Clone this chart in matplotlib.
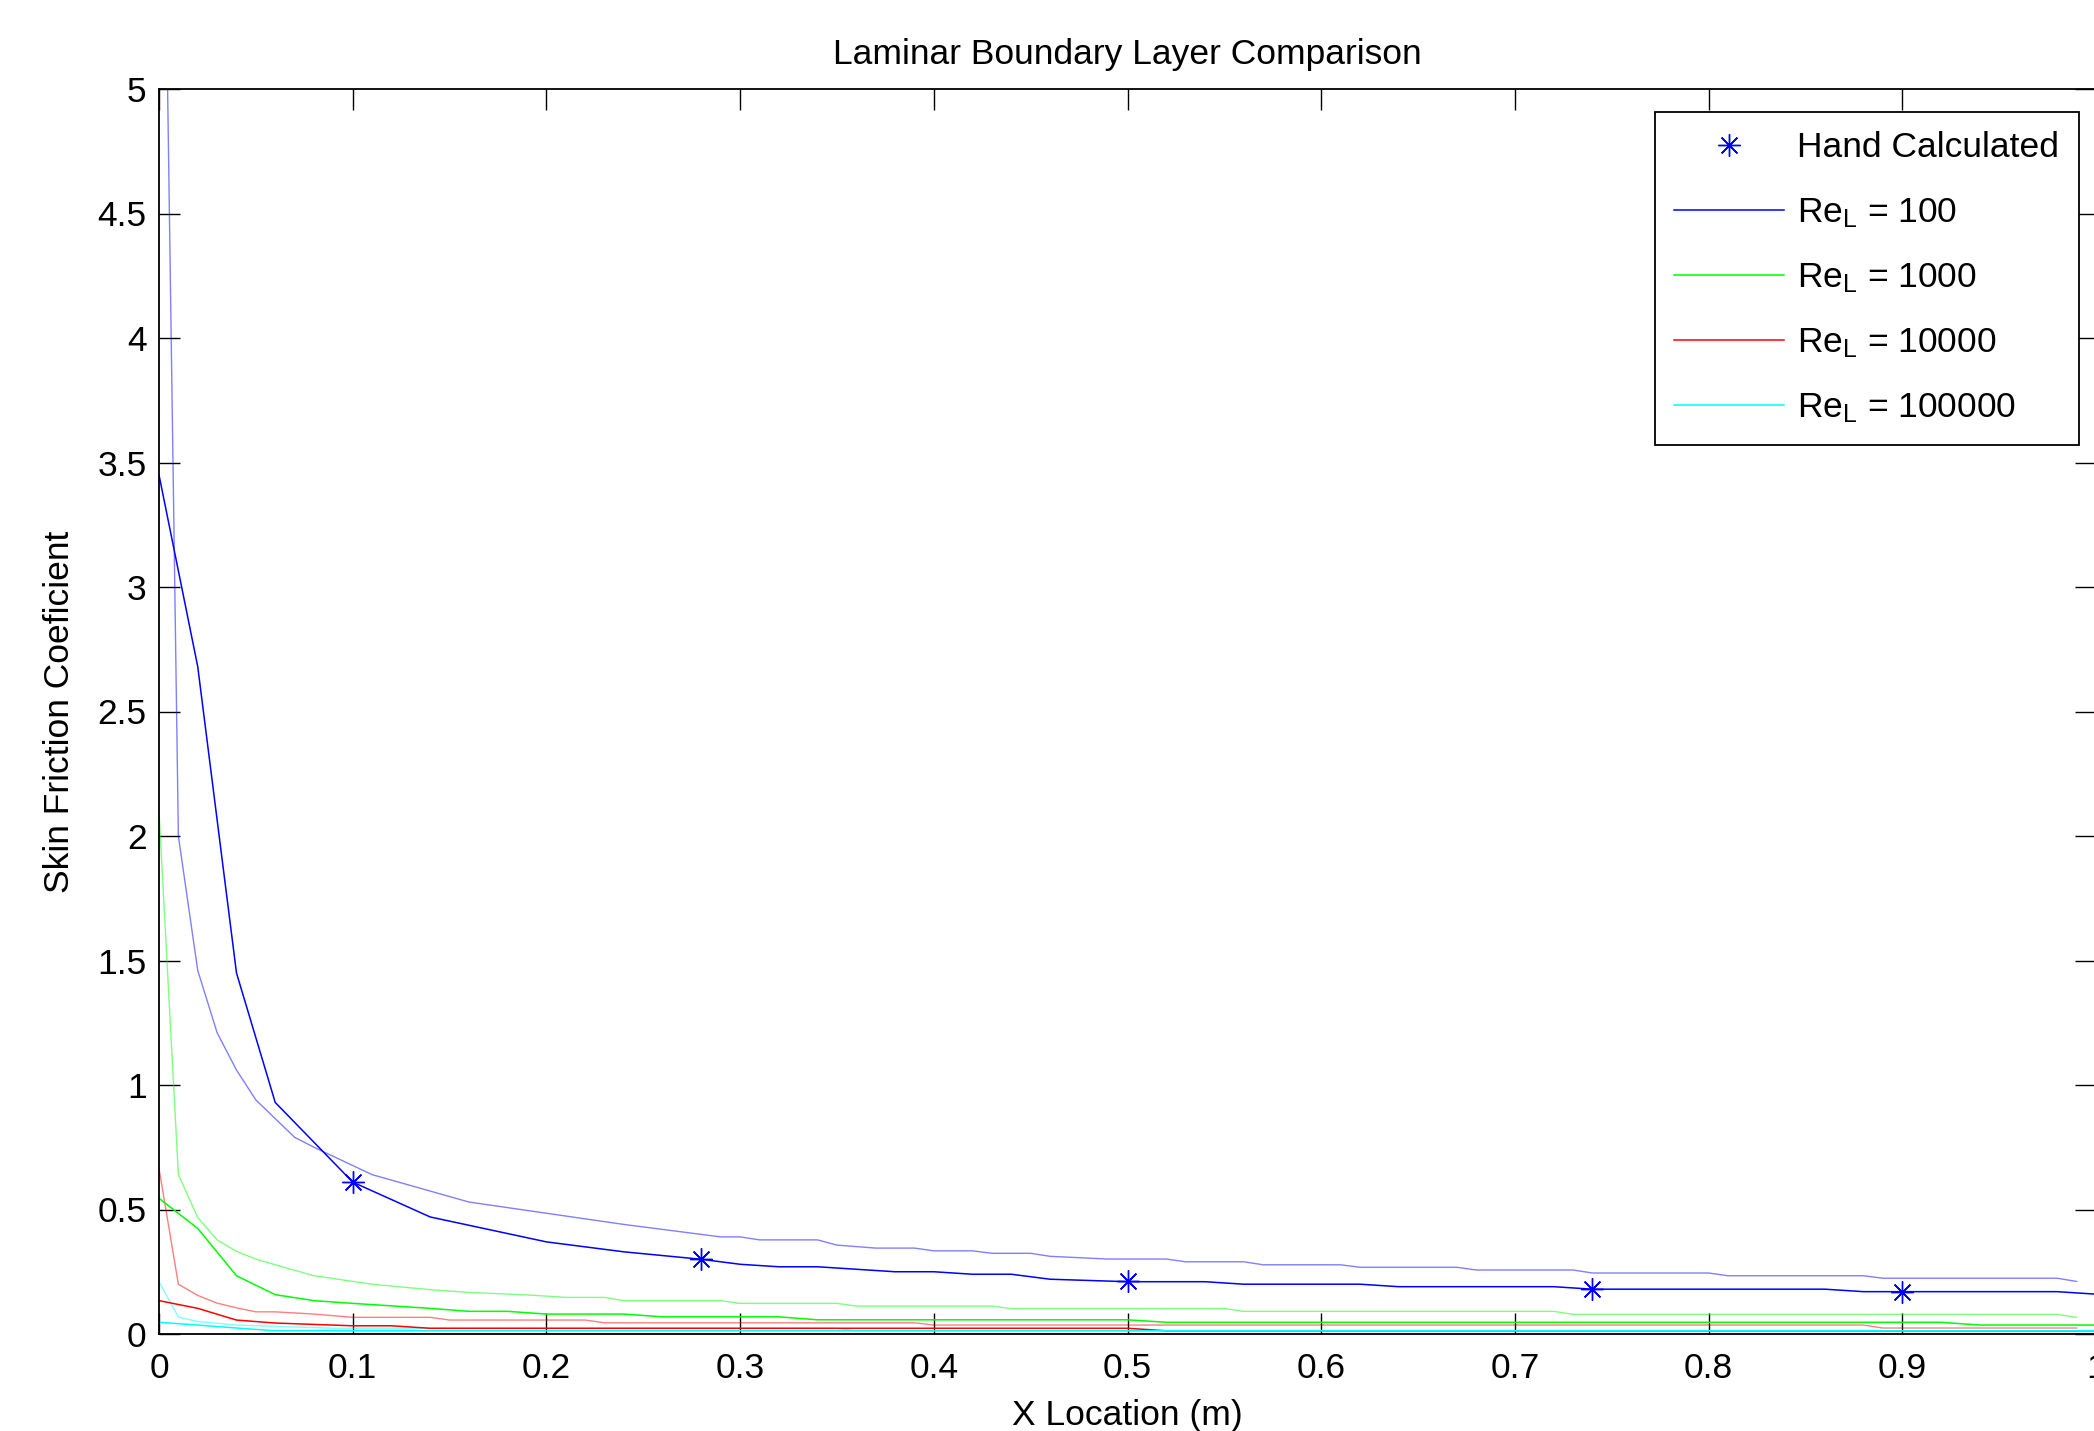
import matplotlib
matplotlib.use('Agg')
import matplotlib.pyplot as plt
from matplotlib.ticker import FixedLocator

# Skin friction coefficient along a flat plate

# Hand calculated points (Re_L = 100)
x_hand = [0.1, 0.28, 0.5, 0.74, 0.9]
cf_hand = [0.61, 0.30, 0.214, 0.18, 0.167]

# Re_L = 100
x_100 = [0, 0.02, 0.04, 0.06, 0.1, 0.14, 0.2, 0.24, 0.28, 0.30, 0.32, 0.34, 0.38, 0.40,
         0.42, 0.44, 0.46, 0.50, 0.54, 0.56, 0.62, 0.64, 0.72, 0.74, 0.86, 0.88, 0.98, 1.0]
cf_100 = [3.45, 2.68, 1.45, 0.93, 0.61, 0.47, 0.37, 0.33, 0.30, 0.28, 0.27, 0.27, 0.25, 0.25,
          0.24, 0.24, 0.22, 0.21, 0.21, 0.20, 0.20, 0.19, 0.19, 0.18, 0.18, 0.17, 0.17, 0.16]
x_100_b = [0, 0.01, 0.02, 0.03, 0.04, 0.05, 0.07, 0.08, 0.11, 0.16,
           0.24, 0.27, 0.29, 0.30, 0.31, 0.34, 0.35, 0.37, 0.39, 0.40,
           0.42, 0.43, 0.45, 0.46, 0.49, 0.52, 0.53, 0.56, 0.57, 0.61,
           0.62, 0.67, 0.68, 0.73, 0.74, 0.80, 0.81, 0.88, 0.89, 0.98, 0.99]
cf_100_b = [7.4, 2.0, 1.46, 1.21, 1.06, 0.94, 0.79, 0.75, 0.64, 0.53,
            0.44, 0.41, 0.39, 0.39, 0.378, 0.378, 0.357, 0.345, 0.345, 0.334,
            0.334, 0.324, 0.324, 0.312, 0.301, 0.301, 0.29, 0.29, 0.278, 0.278,
            0.268, 0.268, 0.257, 0.257, 0.245, 0.245, 0.234, 0.234, 0.224, 0.224, 0.211]

# Re_L = 1000
x_1000 = [0, 0.02, 0.04, 0.06, 0.08, 0.1, 0.14, 0.16, 0.18, 0.2, 0.24, 0.26, 0.32, 0.34,
          0.50, 0.52, 0.92, 0.94, 1.0]
cf_1000 = [0.545, 0.424, 0.234, 0.158, 0.134, 0.123, 0.103, 0.091, 0.091, 0.08, 0.08, 0.069,
           0.069, 0.057, 0.057, 0.047, 0.047, 0.036, 0.036]
x_1000_b = [0, 0.01, 0.02, 0.03, 0.04, 0.05, 0.06, 0.08, 0.11, 0.14, 0.16, 0.19, 0.21, 0.23,
            0.24, 0.29, 0.30, 0.35, 0.36, 0.43, 0.44, 0.55, 0.56, 0.72, 0.73, 0.98, 0.99]
cf_1000_b = [2.10, 0.64, 0.468, 0.378, 0.332, 0.301, 0.278, 0.234, 0.20, 0.178, 0.167, 0.157,
             0.147, 0.147, 0.134, 0.134, 0.123, 0.123, 0.112, 0.112, 0.102, 0.102, 0.091,
             0.091, 0.079, 0.079, 0.067]

# Re_L = 10000
x_10000 = [0, 0.02, 0.04, 0.06, 0.1, 0.12, 0.14, 0.50, 0.52, 1.0]
cf_10000 = [0.134, 0.103, 0.056, 0.044, 0.033, 0.033, 0.023, 0.023, 0.013, 0.013]
x_10000_b = [0, 0.01, 0.02, 0.03, 0.04, 0.05, 0.06, 0.08, 0.10, 0.14, 0.15, 0.22, 0.23,
             0.39, 0.40, 0.88, 0.89, 0.99]
cf_10000_b = [0.665, 0.20, 0.155, 0.124, 0.105, 0.089, 0.089, 0.08, 0.067, 0.067, 0.056,
              0.056, 0.045, 0.045, 0.036, 0.036, 0.024, 0.024]

# Re_L = 100000
x_100000 = [0, 0.02, 0.04, 0.06, 1.0]
cf_100000 = [0.047, 0.036, 0.024, 0.013, 0.013]
x_100000_b = [0, 0.01, 0.02, 0.04, 0.09, 0.35, 0.36, 0.99]
cf_100000_b = [0.21, 0.068, 0.05, 0.036, 0.023, 0.023, 0.012, 0.012]

legend_labels = ['Hand Calculated', r'Re$_\mathrm{L}$ = 100', r'Re$_\mathrm{L}$ = 1000',
                 r'Re$_\mathrm{L}$ = 10000', r'Re$_\mathrm{L}$ = 100000']

x_ticks = [0, 0.1, 0.2, 0.3, 0.4, 0.5, 0.6, 0.7, 0.8, 0.9, 1]
x_tick_labels = ['0', '0.1', '0.2', '0.3', '0.4', '0.5', '0.6', '0.7', '0.8', '0.9', '1']
y_ticks = [0, 0.5, 1, 1.5, 2, 2.5, 3, 3.5, 4, 4.5, 5]
y_tick_labels = ['0', '0.5', '1', '1.5', '2', '2.5', '3', '3.5', '4', '4.5', '5']


def main():

  plt.rcParams['font.family'] = ['Liberation Sans', 'DejaVu Sans']
  plt.rcParams['mathtext.fontset'] = 'custom'
  plt.rcParams['mathtext.rm'] = 'Liberation Sans'
  plt.rcParams['mathtext.it'] = 'Liberation Sans'
  fs = 25.5

  W, H = 2094, 1431
  fig = plt.figure(figsize=(W / 100.0, H / 100.0), dpi=100)
  # Axes box in pixels: left 159, right 2096 (just past the crop), top 89, bottom 1334
  ax = fig.add_axes([159 / W, 1 - 1334 / H, (2096 - 159) / W, (1334 - 89) / H])

  lw = 1.1
  lw_b = 1.0
  a_b = 0.5

  # lighter companion curves
  ax.plot(x_100_b, cf_100_b, color=(0, 0, 1), lw=lw_b, alpha=a_b)
  ax.plot(x_1000_b, cf_1000_b, color=(0, 1, 0), lw=lw_b, alpha=a_b)
  ax.plot(x_10000_b, cf_10000_b, color=(1, 0, 0), lw=lw_b, alpha=a_b)
  ax.plot(x_100000_b, cf_100000_b, color=(0, 1, 1), lw=lw_b, alpha=a_b)

  h_hand, = ax.plot(x_hand, cf_hand, linestyle='none', marker=(8, 2, 0), ms=16,
                    mew=1.0, color=(0, 0, 1))
  h1, = ax.plot(x_100, cf_100, color=(0, 0, 1), lw=lw)
  h2, = ax.plot(x_1000, cf_1000, color=(0, 1, 0), lw=lw)
  h3, = ax.plot(x_10000, cf_10000, color=(1, 0, 0), lw=lw)
  h4, = ax.plot(x_100000, cf_100000, color=(0, 1, 1), lw=lw)

  ax.set_xlim(0, 1)
  ax.set_ylim(0, 5)
  ax.xaxis.set_major_locator(FixedLocator(x_ticks))
  ax.set_xticklabels(x_tick_labels)
  ax.yaxis.set_major_locator(FixedLocator(y_ticks))
  ax.set_yticklabels(y_tick_labels)
  ax.tick_params(axis='both', which='major', direction='in', length=15, width=1.0,
                 top=True, right=True, labelsize=fs, color='black')
  ax.tick_params(axis='x', pad=13)
  ax.tick_params(axis='y', pad=9)
  for s in ax.spines.values():
    s.set_linewidth(1.3)
    s.set_color('black')

  ax.set_title('Laminar Boundary Layer Comparison', fontsize=fs, pad=18)
  ax.set_xlabel('X Location (m)', fontsize=fs, labelpad=10)
  ax.set_ylabel('Skin Friction Coeficient', fontsize=fs, labelpad=15)

  leg = fig.legend([h_hand, h1, h2, h3, h4], legend_labels, loc='upper left',
                   bbox_to_anchor=(1655 / W, 1 - 112 / H), borderaxespad=0,
                   fontsize=fs, numpoints=1, handlelength=3.1, handletextpad=0.37,
                   labelspacing=0.89, borderpad=0.55, fancybox=False, framealpha=1,
                   edgecolor='black')
  leg.get_frame().set_linewidth(1.3)

  fig.savefig('out.png', dpi=100)


if __name__ == '__main__':
  main()
